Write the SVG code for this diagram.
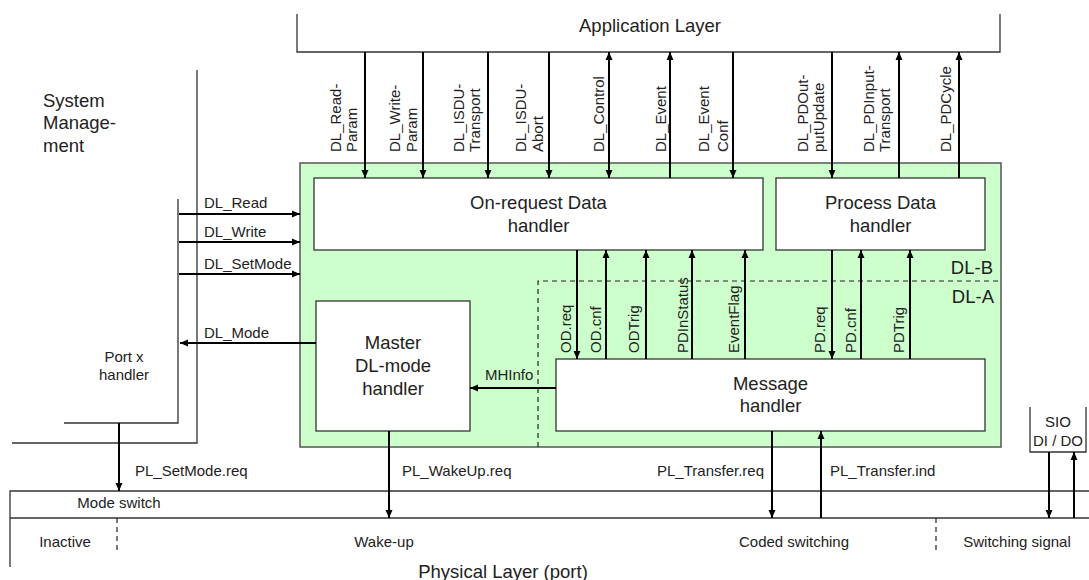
<svg xmlns="http://www.w3.org/2000/svg" width="1089" height="580" viewBox="0 0 1089 580">
<style>
text{font-family:"Liberation Sans",Arial,sans-serif;fill:#222}
.big{font-size:18.5px}
.sm{font-size:15px}
.mid{text-anchor:middle}
.box{fill:#fff;stroke:#333;stroke-width:1.3}
.thin{fill:none;stroke:#333;stroke-width:1.3}
.arr{stroke:#000;stroke-width:2;fill:none}
.end{marker-end:url(#ah)}
.both{marker-end:url(#ah);marker-start:url(#ah)}
.dash{stroke:#222;stroke-width:1.2;stroke-dasharray:5,4;fill:none}
</style>
<defs>
<marker id="ah" markerUnits="userSpaceOnUse" markerWidth="9" markerHeight="8" refX="8" refY="4" orient="auto-start-reverse" viewBox="0 0 9 8"><path d="M0,0.5 L8,4 L0,7.5 z" fill="#000"/></marker>
</defs>
<rect width="1089" height="580" fill="#fff"/>

<g id="application-layer">
<path class="thin" d="M297,14 V52 H1000 V14"/>
<text class="big mid" x="650" y="32">Application Layer</text>
</g>

<g id="system-management">
<path class="thin" d="M197,70 V443 H12"/>
<text class="big" x="43" y="107">System</text>
<text class="big" x="43" y="129">Manage-</text>
<text class="big" x="43" y="152">ment</text>
</g>

<g id="port-x-handler">
<path class="thin" d="M178,199 V423 H64"/>
<text class="sm mid" x="124" y="362">Port x</text>
<text class="sm mid" x="124" y="380">handler</text>
</g>

<g id="data-link-layer">
<rect x="300" y="163" width="701" height="284" fill="#ccffcc" stroke="#555" stroke-width="1.5"/>
<path class="dash" d="M538,447 V281 H1001"/>
<text class="big" x="993" y="274" text-anchor="end">DL-B</text>
<text class="big" x="994" y="303" text-anchor="end">DL-A</text>
</g>

<g id="on-request-data-handler">
<rect class="box" x="314" y="178" width="449" height="72"/>
<text class="big mid" x="538.5" y="209">On-request Data</text>
<text class="big mid" x="538.5" y="232">handler</text>
</g>

<g id="process-data-handler">
<rect class="box" x="776" y="178" width="209" height="72"/>
<text class="big mid" x="880.5" y="209">Process Data</text>
<text class="big mid" x="880.5" y="232">handler</text>
</g>

<g id="master-dl-mode-handler">
<rect class="box" x="316" y="301" width="154" height="130"/>
<text class="big mid" x="393" y="349">Master</text>
<text class="big mid" x="393" y="372">DL-mode</text>
<text class="big mid" x="393" y="395">handler</text>
</g>

<g id="message-handler">
<rect class="box" x="556" y="359" width="429" height="72"/>
<text class="big mid" x="770.5" y="390">Message</text>
<text class="big mid" x="770.5" y="412">handler</text>
</g>

<g id="sio-di-do">
<path class="thin" d="M1030,407 V452 H1086 V407"/>
<text class="sm mid" x="1058" y="427">SIO</text>
<text class="sm mid" x="1058" y="446">DI / DO</text>
</g>

<g id="physical-layer">
<path class="thin" d="M1089,491 H10 V567"/>
<path class="thin" d="M10,518 H1089"/>
<path class="dash" d="M117,518 V551"/>
<path class="dash" d="M936,518 V551"/>
<text class="sm mid" x="119" y="508">Mode switch</text>
<text class="sm mid" x="65" y="546.5">Inactive</text>
<text class="sm mid" x="384" y="546.5">Wake-up</text>
<text class="sm mid" x="794" y="546.5">Coded switching</text>
<text class="sm mid" x="1017" y="546.5">Switching signal</text>
<text class="big mid" x="503" y="578">Physical Layer (port)</text>
</g>

<g id="connectors">
<path class="arr end" d="M365,52 V178"/>
<path class="arr end" d="M423,52 V178"/>
<path class="arr end" d="M488,52 V178"/>
<path class="arr end" d="M549,52 V178"/>
<path class="arr both" d="M609,52 V178"/>
<path class="arr end" d="M670,178 V52"/>
<path class="arr end" d="M733,52 V178"/>
<path class="arr end" d="M832,52 V178"/>
<path class="arr end" d="M899,178 V52"/>
<path class="arr end" d="M959,178 V52"/>

<path class="arr end" d="M577,250 V359"/>
<path class="arr end" d="M606,359 V250"/>
<path class="arr end" d="M646,359 V250"/>
<path class="arr end" d="M692,359 V250"/>
<path class="arr end" d="M745,359 V250"/>
<path class="arr end" d="M832,250 V359"/>
<path class="arr end" d="M861,359 V250"/>
<path class="arr end" d="M910,359 V250"/>

<path class="arr end" d="M179,214 H300"/>
<path class="arr end" d="M179,242 H300"/>
<path class="arr end" d="M179,274 H300"/>
<path class="arr end" d="M316,343 H180"/>
<path class="arr end" d="M556,388 H470"/>

<path class="arr end" d="M119,423 V491"/>
<path class="arr end" d="M389,431 V518"/>
<path class="arr end" d="M772,431 V518"/>
<path class="arr end" d="M821,518 V431"/>
<path class="arr end" d="M1049,452 V518"/>
<path class="arr end" d="M1074,518 V452"/>

<g class="sm">
<text class="sm" transform="translate(341,152) rotate(-90)">DL_Read-<tspan x="0" dy="16">Param</tspan></text>
<text class="sm" transform="translate(400,152) rotate(-90)">DL_Write-<tspan x="0" dy="16.5">Param</tspan></text>
<text class="sm" transform="translate(464,152) rotate(-90)">DL_ISDU-<tspan x="0" dy="16">Transport</tspan></text>
<text class="sm" transform="translate(526,152) rotate(-90)">DL_ISDU-<tspan x="0" dy="17">Abort</tspan></text>
<text class="sm" transform="translate(604,152) rotate(-90)">DL_Control</text>
<text class="sm" transform="translate(666,152) rotate(-90)">DL_Event</text>
<text class="sm" transform="translate(709,152) rotate(-90)">DL_Event<tspan x="0" dy="18.5">Conf</tspan></text>
<text class="sm" transform="translate(808,152) rotate(-90)">DL_PDOut-<tspan x="0" dy="16">putUpdate</tspan></text>
<text class="sm" transform="translate(874,152) rotate(-90)">DL_PDInput-<tspan x="0" dy="16">Transport</tspan></text>
<text class="sm" transform="translate(951,152) rotate(-90)">DL_PDCycle</text>

<text class="sm" transform="translate(571,353) rotate(-90)">OD.req</text>
<text class="sm" transform="translate(601,353) rotate(-90)">OD.cnf</text>
<text class="sm" transform="translate(638.5,353) rotate(-90)">ODTrig</text>
<text class="sm" transform="translate(688,353) rotate(-90)">PDInStatus</text>
<text class="sm" transform="translate(738.5,353) rotate(-90)">EventFlag</text>
<text class="sm" transform="translate(825,353) rotate(-90)">PD.req</text>
<text class="sm" transform="translate(856,353) rotate(-90)">PD.cnf</text>
<text class="sm" transform="translate(904,353) rotate(-90)">PDTrig</text>

<text class="sm" x="204" y="208">DL_Read</text>
<text class="sm" x="204" y="237">DL_Write</text>
<text class="sm" x="204" y="269">DL_SetMode</text>
<text class="sm" x="204" y="338">DL_Mode</text>
<text class="sm" x="485" y="380">MHInfo</text>

<text class="sm" x="135" y="476">PL_SetMode.req</text>
<text class="sm" x="402" y="476">PL_WakeUp.req</text>
<text class="sm" x="657" y="476">PL_Transfer.req</text>
<text class="sm" x="830" y="476">PL_Transfer.ind</text>
</g>
</g>
</svg>
